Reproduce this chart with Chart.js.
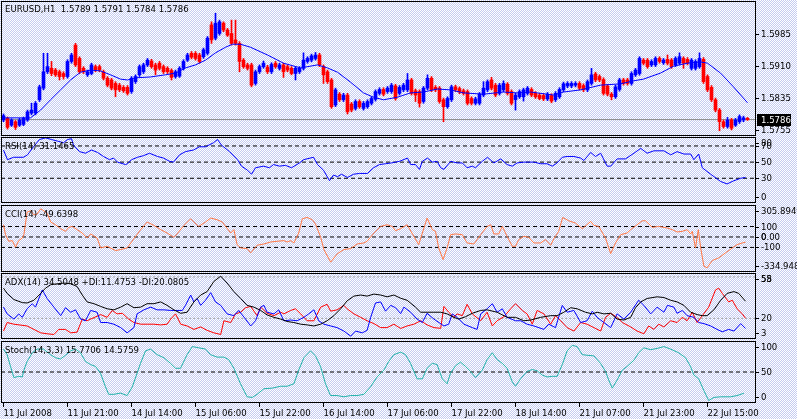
<!DOCTYPE html>
<html><head><meta charset="utf-8">
<script src="https://cdn.jsdelivr.net/npm/chart.js@4.4.1/dist/chart.umd.min.js"></script>
<style>
html,body{margin:0;padding:0;}
body{width:797px;height:419px;position:relative;overflow:hidden;
 background-color:#ffffff;
 background-image:repeating-conic-gradient(#c4cbf0 0 25%, #ffffff 0 50%);
 background-size:2px 2px;}
canvas{position:absolute;left:0;top:0;}
</style></head><body>
<canvas id="cMain" width="797" height="419"></canvas>
<canvas id="cRsi" width="797" height="419"></canvas>
<canvas id="cCci" width="797" height="419"></canvas>
<canvas id="cAdx" width="797" height="419"></canvas>
<canvas id="cSto" width="797" height="419"></canvas>
<script>
// ---------------- DATA ----------------
const symbolTitle = 'EURUSD,H1  1.5789 1.5791 1.5784 1.5786';
const xTickBars = [0,16,32,48,64,80,96,112,128,144,160,176];
const xTickLabels = ['11 Jul 2008','11 Jul 21:00','14 Jul 14:00','15 Jul 06:00','15 Jul 22:00','16 Jul 14:00','17 Jul 06:00','17 Jul 22:00','18 Jul 14:00','21 Jul 07:00','21 Jul 23:00','22 Jul 15:00'];

const openP = [1.5785,1.5789,1.5773,1.5781,1.5773,1.5775,1.5785,1.5801,1.5801,1.5832,
1.5859,1.5897,1.5905,1.5901,1.5897,1.5893,1.5886,1.5921,1.5959,1.5928,
1.5905,1.5890,1.5893,1.5909,1.5909,1.5897,1.5882,1.5878,1.5870,1.5866,
1.5861,1.5861,1.5851,1.5874,1.5890,1.5897,1.5913,1.5922,1.5913,1.5917,
1.5909,1.5905,1.5900,1.5886,1.5887,1.5905,1.5924,1.5940,1.5940,1.5936,
1.5932,1.5940,1.6006,1.5975,1.5986,1.6010,1.5994,1.5986,1.5971,1.5963,
1.5924,1.5913,1.5913,1.5870,1.5897,1.5909,1.5908,1.5897,1.5917,1.5905,
1.5913,1.5909,1.5905,1.5893,1.5897,1.5905,1.5921,1.5924,1.5928,1.5936,
1.5909,1.5897,1.5878,1.5820,1.5845,1.5832,1.5843,1.5822,1.5812,1.5828,
1.5812,1.5816,1.5824,1.5833,1.5847,1.5856,1.5851,1.5851,1.5864,1.5847,
1.5855,1.5855,1.5878,1.5853,1.5851,1.5828,1.5859,1.5882,1.5861,1.5859,
1.5832,1.5816,1.5832,1.5862,1.5858,1.5853,1.5851,1.5835,1.5824,1.5824,
1.5843,1.5855,1.5878,1.5866,1.5847,1.5855,1.5868,1.5851,1.5832,1.5839,
1.5839,1.5847,1.5856,1.5847,1.5843,1.5842,1.5834,1.5842,1.5832,1.5839,
1.5855,1.5864,1.5864,1.5866,1.5870,1.5865,1.5855,1.5870,1.5892,1.5886,
1.5879,1.5864,1.5845,1.5839,1.5856,1.5878,1.5878,1.5870,1.5890,1.5893,
1.5924,1.5924,1.5913,1.5913,1.5928,1.5918,1.5926,1.5924,1.5913,1.5917,
1.5928,1.5926,1.5905,1.5905,1.5909,1.5926,1.5886,1.5861,1.5832,1.5808,
1.5781,1.5770,1.5785,1.5773,1.5781,1.5785,1.5789];
const highP = [1.5799,1.5792,1.5788,1.5784,1.5789,1.5792,1.5808,1.5824,1.5828,1.5866,
1.5940,1.5940,1.5921,1.5905,1.5901,1.5897,1.5925,1.5940,1.5963,1.5932,
1.5909,1.5901,1.5917,1.5913,1.5913,1.5901,1.5886,1.5882,1.5874,1.5870,
1.5865,1.5865,1.5886,1.5890,1.5913,1.5917,1.5928,1.5926,1.5917,1.5921,
1.5913,1.5909,1.5904,1.5901,1.5909,1.5925,1.5940,1.5944,1.5944,1.5940,
1.5952,1.5979,1.6013,1.6033,1.6017,1.6013,1.5998,1.6017,1.6017,1.5967,
1.5928,1.5917,1.5917,1.5901,1.5913,1.5922,1.5912,1.5918,1.5921,1.5917,
1.5917,1.5913,1.5909,1.5909,1.5909,1.5941,1.5932,1.5938,1.5942,1.5940,
1.5913,1.5901,1.5882,1.5859,1.5849,1.5847,1.5847,1.5826,1.5832,1.5832,
1.5828,1.5832,1.5839,1.5855,1.5860,1.5860,1.5863,1.5870,1.5868,1.5865,
1.5870,1.5893,1.5882,1.5857,1.5855,1.5863,1.5890,1.5886,1.5865,1.5863,
1.5836,1.5839,1.5866,1.5866,1.5862,1.5857,1.5855,1.5839,1.5838,1.5849,
1.5874,1.5878,1.5884,1.5870,1.5870,1.5876,1.5872,1.5855,1.5847,1.5855,
1.5859,1.5863,1.5860,1.5851,1.5847,1.5846,1.5849,1.5846,1.5851,1.5860,
1.5873,1.5874,1.5874,1.5874,1.5874,1.5869,1.5878,1.5905,1.5896,1.5890,
1.5883,1.5868,1.5849,1.5866,1.5882,1.5882,1.5882,1.5897,1.5905,1.5932,
1.5928,1.5928,1.5925,1.5932,1.5932,1.5928,1.5936,1.5928,1.5932,1.5941,
1.5932,1.5930,1.5928,1.5925,1.5941,1.5930,1.5890,1.5865,1.5836,1.5812,
1.5785,1.5791,1.5789,1.5789,1.5797,1.5794,1.5791];
const lowP = [1.5781,1.5764,1.5770,1.5763,1.5770,1.5772,1.5782,1.5797,1.5797,1.5828,
1.5855,1.5893,1.5888,1.5886,1.5878,1.5880,1.5882,1.5917,1.5909,1.5893,
1.5893,1.5886,1.5890,1.5897,1.5897,1.5878,1.5862,1.5855,1.5839,1.5851,
1.5849,1.5843,1.5847,1.5870,1.5886,1.5893,1.5909,1.5905,1.5890,1.5901,
1.5893,1.5893,1.5878,1.5882,1.5884,1.5901,1.5921,1.5927,1.5924,1.5917,
1.5928,1.5936,1.5963,1.5971,1.5982,1.5990,1.5979,1.5959,1.5959,1.5897,
1.5905,1.5901,1.5862,1.5866,1.5893,1.5905,1.5893,1.5893,1.5905,1.5901,
1.5884,1.5897,1.5890,1.5878,1.5893,1.5901,1.5917,1.5920,1.5924,1.5909,
1.5870,1.5870,1.5812,1.5816,1.5828,1.5828,1.5799,1.5804,1.5808,1.5812,
1.5808,1.5812,1.5820,1.5829,1.5843,1.5841,1.5847,1.5847,1.5831,1.5843,
1.5851,1.5851,1.5843,1.5828,1.5815,1.5824,1.5855,1.5851,1.5851,1.5824,
1.5781,1.5812,1.5828,1.5851,1.5846,1.5843,1.5820,1.5820,1.5820,1.5820,
1.5839,1.5851,1.5855,1.5839,1.5843,1.5851,1.5843,1.5820,1.5808,1.5835,
1.5829,1.5843,1.5839,1.5835,1.5832,1.5830,1.5830,1.5825,1.5828,1.5835,
1.5851,1.5860,1.5860,1.5862,1.5855,1.5851,1.5851,1.5866,1.5874,1.5874,
1.5843,1.5841,1.5832,1.5835,1.5852,1.5866,1.5866,1.5866,1.5886,1.5889,
1.5913,1.5905,1.5909,1.5909,1.5917,1.5914,1.5913,1.5905,1.5909,1.5913,
1.5905,1.5913,1.5901,1.5901,1.5905,1.5870,1.5851,1.5828,1.5804,1.5760,
1.5766,1.5766,1.5762,1.5770,1.5777,1.5781,1.5784];
const closeP = [1.5795,1.5768,1.5785,1.5768,1.5785,1.5789,1.5804,1.5808,1.5824,1.5862,
1.5897,1.5909,1.5893,1.5890,1.5886,1.5886,1.5921,1.5936,1.5913,1.5897,
1.5897,1.5897,1.5913,1.5901,1.5901,1.5882,1.5866,1.5859,1.5855,1.5855,
1.5853,1.5847,1.5882,1.5886,1.5909,1.5913,1.5924,1.5909,1.5901,1.5905,
1.5897,1.5897,1.5884,1.5897,1.5905,1.5921,1.5936,1.5931,1.5928,1.5921,
1.5948,1.5975,1.5971,1.6010,1.6013,1.5994,1.5982,1.5963,1.5963,1.5921,
1.5909,1.5905,1.5866,1.5897,1.5909,1.5917,1.5897,1.5914,1.5909,1.5913,
1.5897,1.5901,1.5893,1.5905,1.5905,1.5924,1.5928,1.5934,1.5936,1.5913,
1.5890,1.5874,1.5816,1.5855,1.5832,1.5843,1.5804,1.5808,1.5828,1.5816,
1.5824,1.5828,1.5835,1.5851,1.5856,1.5845,1.5859,1.5866,1.5835,1.5861,
1.5866,1.5878,1.5847,1.5843,1.5824,1.5859,1.5882,1.5855,1.5855,1.5828,
1.5816,1.5835,1.5862,1.5855,1.5850,1.5847,1.5824,1.5824,1.5834,1.5845,
1.5859,1.5874,1.5859,1.5843,1.5866,1.5870,1.5847,1.5824,1.5843,1.5851,
1.5855,1.5859,1.5843,1.5839,1.5835,1.5834,1.5845,1.5829,1.5847,1.5856,
1.5869,1.5870,1.5870,1.5870,1.5859,1.5855,1.5874,1.5890,1.5878,1.5878,
1.5847,1.5845,1.5839,1.5862,1.5878,1.5870,1.5870,1.5893,1.5901,1.5928,
1.5917,1.5909,1.5921,1.5928,1.5921,1.5924,1.5917,1.5909,1.5928,1.5932,
1.5917,1.5917,1.5924,1.5921,1.5928,1.5874,1.5855,1.5832,1.5808,1.5781,
1.5770,1.5785,1.5766,1.5785,1.5793,1.5790,1.5786];
const bidPrice = 1.5786;
const priceTicks = [1.5985,1.5910,1.5835,1.5755];

const maBar = [0,6.75,9.25,11.75,14.25,16.75,19.25,21.75,24.25,26.75,29.25,31,33,36.75,40.5,43,45.5,48,50.5,53,55.5,57.25,59.25,61.75,66,70,74.25,78.5,81,83.5,86.75,90,92.5,95,98.5,101.75,105,108.5,111.75,115,120,125,128.5,131.75,133.5,137.5,140,144.25,149.25,154.25,157.5,160,164.25,167.5,171,174.25,176,179.25,182.5,186];
const maVal = [1.5790,1.5790,1.5808,1.5832,1.5855,1.5878,1.5896,1.5901,1.5899,1.5890,1.5880,1.5878,1.5883,1.5885,1.5890,1.5894,1.5906,1.5913,1.5924,1.5941,1.5954,1.5961,1.5961,1.5954,1.5936,1.5917,1.5906,1.5913,1.5906,1.5896,1.5873,1.5848,1.5838,1.5832,1.5838,1.5848,1.5850,1.5857,1.5855,1.5848,1.5845,1.5850,1.5848,1.5850,1.5848,1.5843,1.5850,1.5855,1.5866,1.5869,1.5876,1.5880,1.5894,1.5910,1.5917,1.5920,1.5917,1.5894,1.5862,1.5825];

const rsiBar = [0,1,2.5,5,6,7.5,9,10.5,12,13.5,15,16,17,17.5,19,20.5,22,23.5,25,26.5,27.5,28.5,30.5,31,32,33.5,35,36.5,38.5,40,41.5,42.5,44,45.5,47.5,49,50.5,52.5,53.5,54.5,56.5,58.5,59.5,61,62,63,65,66.5,67.5,69,70.5,72,74,75,77.5,78.5,80,81.5,82.5,83.5,84.5,86,87.5,89,91,92.5,94,95.5,97,99,
101,101.8,103,104,104.7,106,107.2,108.4,109.3,110.1,111.8,113.4,114.7,115.9,117.2,118,119.7,121,122.6,124.3,125.9,127.2,128.4,130.1,132.6,134.3,135.9,137.2,138.4,139.7,140.9,142.6,144.3,145.1,146.8,148,149.3,150.9,151.8,153.4,155.5,157.6,159.3,160.9,162.6,165.1,166.8,168.4,170.1,171.8,172.6,173.8,174.7,176.8,179.3,180.9,182.6,184.3,185.5];
const rsiVal = [65,53,56,56,59,69,78,80,78,76,74,78,79,71,63,61,65,62,57,53,55,50,47,48,53,56,58,61,57,55,51,50,59,63,65,69,69,74,78,71,63,53,45,40,35,43,45,43,47,45,46,43,49,53,56,47,40,27,34,32,35,31,35,36,36,43,47,48,49,51,
55,47,47,41,51,55,50,51,43,41,51,49,49,43,45,43,51,56,49,54,47,45,49,50,50,48,48,45,49,56,57,57,55,52,62,57,61,45,45,54,54,61,67,61,64,64,59,63,60,60,53,60,43,35,26,23,27,30,31.1];
const rsiLevels = [70,50,30];

const cciBar = [0,0.5,1.3,2.2,3,3.8,4.7,5.1,5.9,6.8,7.6,8.4,9.3,9.7,10.9,11.8,13,14.3,15.5,16.3,17.2,18.4,19.7,20.9,21.8,23.4,24.3,25.9,28,29.3,30.9,32.6,34.3,35.9,37.6,39.3,40.9,42.6,43.4,45.1,46.8,47.6,48.8,50.5,51.8,53.4,54.7,56.8,57.6,58.4,59.3,60.9,61.8,63.4,65.1,66.8,68.4,70.1,70.9,71.8,72.6,73.8,74.7,75.9,77.2,78,79.3,80.1,81.8,83.4,85.1,86.8,88.4,90.1,90.9,92.6,94.3,95.9,97.2,98,
99.3,100.9,103.8,105.9,107.2,108,108.8,109.9,110.9,111.8,113,114.7,115.9,117.6,119.3,120.9,121.8,122.6,123.8,124.7,125.9,127.2,128,128.8,130.1,131.3,132.6,134.3,135.5,136.8,137.6,138.8,139.8,141.3,143,144.7,146.8,147.6,148.8,150.5,151.8,153,154.3,155.9,156.8,158.4,159.7,160.5,162.2,163.8,165.9,167.2,168.4,169.7,170.9,171.8,172.2,173,173.7,174.3,175.1,175.9,177.2,178.8,180.5,182.2,183.4,184.7,185.5];
const cciVal = [117,22,-41,-35,-98,-35,-10,22,238,250,212,219,269,260,228,143,117,79,54,92,101,70,38,-10,29,-10,-105,-89,-130,-120,-105,-16,70,143,111,70,38,-3,29,111,174,143,101,143,181,165,143,38,70,-73,-105,-111,-152,-79,-67,-48,-41,-35,-48,-35,-57,38,174,187,165,124,-3,-120,-241,-162,-120,-111,-67,-57,-41,38,101,117,101,60,
80,117,-73,181,70,54,-105,-216,-105,22,29,22,-57,-67,22,101,117,29,29,101,6,-89,-89,-25,6,-3,-57,-57,-25,-79,-16,54,187,155,133,79,149,111,101,-10,-159,-57,22,38,70,117,155,155,92,101,86,70,48,54,70,29,54,-105,70,-105,-279,-295,-225,-200,-152,-105,-73,-57,-49.6];
const cciLevels = [100,0,-100];

const adxBar = [0,0.9,2.6,4.7,5.9,7.6,9.3,10.5,11.8,13.4,15.1,16.8,18.4,19.7,20.9,22.6,24.3,25.9,27.6,29.3,30.9,32.6,34.3,35.9,37.6,39.3,40.9,42.6,44.3,45.9,47.6,49.3,50.9,52.6,54.3,55.9,57.6,59.3,60.9,62.6,64.3,65.9,67.6,69.3,70.9,72.6,74.3,75.9,77.6,79.3,80.9,82.6,84.3,85.9,87.6,89.3,90.9,92.6,94.3,95.9,97.6,
99.3,100.9,103,104.3,105.9,107.6,109.3,110.9,112.6,113.8,115.5,117.2,119.3,120.9,123.4,125.9,128,130.1,131.8,134.3,136.8,138.4,140.1,141.8,143.4,145.5,147.2,148.4,150.1,151.8,153.4,155.1,156.8,158,159.3,160.9,163.4,165.1,166.8,168.4,170.1,171.8,173.4,174.7,175.9,177.6,179.3,180.9,182.6,183.8,185.5];
const adxVal = [45.5,41.1,35.9,33.3,33.0,35.3,41.1,45.5,48.4,49.2,49.8,49.2,46.9,39.7,33.9,32.4,30.1,28.1,27.2,29.5,32.4,29.0,29.5,32.4,32.4,33.9,31.0,27.2,24.3,25.2,33.9,39.7,42.6,51.2,55.6,49.8,42.6,36.8,31.0,29.5,26.7,22.9,20.9,19.4,17.4,16.5,15.1,14.5,13.6,15.1,18.0,22.3,28.1,34.8,38.8,39.7,38.8,40.5,39.7,38.2,39.7,
37.0,35.3,29.5,25.2,25.2,25.2,25.2,23.8,20.9,19.4,21.4,24.3,26.7,27.2,25.2,20.9,20.9,18.0,18.6,20.9,22.3,22.3,25.2,29.0,28.1,25.2,23.8,25.2,23.8,24.3,19.4,18.6,20.9,29.0,33.9,36.8,38.2,37.6,35.3,33.9,31.0,25.2,23.2,22.3,22.3,27.2,35.3,41.1,42.6,41.1,34.5];
const pdiBar = [0,0.9,2.6,3.8,4.7,5.9,7.2,8,9.7,10.9,12.6,14.3,15.5,16.8,18,19.3,20.5,21.8,23.4,24.3,25.9,27.6,29.3,30.9,32.6,33.4,35.1,36.8,38.4,40.1,41.8,43,44.7,45.5,46.8,47.6,48.4,49.3,50.5,51.8,53,54.3,55.9,57.6,58.8,60.5,61.8,63,64.3,65.1,65.9,67.6,68.8,70.1,71.8,73.4,75.1,76.3,77.6,78.8,80.1,81.8,83.4,85.1,86.8,88,89.7,90.9,91.8,93,94.3,95.5,96.8,98,
99.3,100.1,101.8,103.4,104.7,105.9,107.6,110.1,111.3,112.2,113.4,115.1,117.2,118.4,119.3,120.9,122.2,123.4,124.7,125.9,128,129.3,130.9,132.6,135.1,136.3,138,139.7,140.9,142.6,144.3,145.9,147.2,148.4,150.1,151.8,153.4,155.1,156.8,158.8,160.1,161.8,163.4,165.1,166,167.6,168.4,169.7,170.9,172.6,173.8,175.1,176.8,178.4,179.7,181.3,182.6,184.3,185.5];
const pdiVal = [29.5,23.8,19.4,23.8,20.9,28.1,32.4,29.5,44.0,36.8,29.5,22.3,29.0,25.2,27.2,19.4,18.0,26.7,25.2,16.5,16.5,15.1,12.2,7.8,12.2,23.8,27.2,29.5,27.2,27.2,26.7,26.7,26.7,31.0,39.7,33.9,36.8,31.0,35.3,41.7,33.9,31.0,23.8,22.3,26.7,19.4,13.6,18.0,29.5,31.0,25.2,23.8,27.2,18.0,18.6,18.0,20.9,23.8,27.2,18.0,15.1,13.6,12.2,9.3,5.0,9.3,7.8,9.9,20.9,33.0,33.9,26.1,31.0,29.0,
24.0,29.5,25.2,19.4,16.5,24.3,19.4,13.6,15.1,23.8,20.9,15.1,12.2,10.7,23.8,28.1,32.4,25.2,28.1,20.9,18.0,18.0,15.1,13.6,10.7,15.1,12.2,31.0,25.2,26.7,16.5,18.0,26.1,20.9,16.5,12.2,23.8,19.4,25.2,35.3,31.0,23.8,29.5,25.2,31.0,29.5,24.3,26.7,22.3,20.9,16.5,15.6,13.6,10.7,8.7,10.7,9.3,15.6,11.5];
const mdiBar = [0,0.9,2.6,5.9,7.6,9.3,10.9,12.6,13.8,15.5,16.8,18.4,19.7,20.9,21.8,24.3,25.9,27.2,28.4,29.7,31.3,32.6,34.3,35.9,37.6,39.3,40.9,41.8,43,44.3,45.9,47.6,49.3,50.9,52.6,54.3,55.1,56.8,58,59.3,60.5,61.8,63.4,64.3,65.9,67.6,69.3,70.1,71.8,73,74.3,75.9,77.6,79.3,80.9,81.8,83.4,85.1,85.9,87.6,89.3,90.9,92.6,94.3,95.9,97.6,
99.3,100.9,102.6,104.3,105.9,107.6,109.3,110.1,111.3,112.6,113.4,114.7,115.9,117.2,119.3,120.9,122.2,123.4,125.1,126.8,128,129.7,130.9,132.2,133.4,135.1,136.8,138,139.3,140.9,142.6,144.3,145.9,147.6,149.3,150.5,151.8,153.4,154.7,156.8,158.4,160.1,161.3,162.6,163.8,165.1,166.8,168.4,169.7,170.9,172.2,173.4,174.7,176.3,178,178.8,179.7,181.3,182.2,183.4,184.7,185.5];
const mdiVal = [9.3,16.5,15.1,13.6,10.7,7.8,7.0,6.4,10.7,10.7,7.8,8.4,19.4,18.0,19.4,23.2,20.9,26.7,23.8,24.3,19.4,16.5,15.1,15.1,15.1,14.5,15.1,19.4,23.8,15.1,13.6,10.7,12.8,9.9,7.8,6.4,18.0,16.5,23.8,25.2,29.0,30.1,22.3,29.5,24.3,22.3,25.2,23.8,26.7,28.1,23.8,18.0,18.0,29.5,31.9,26.1,27.2,31.0,28.1,23.8,20.9,18.0,15.6,12.2,12.2,15.1,
11.5,13.6,15.1,18.0,14.5,12.2,11.6,30.1,25.2,20.9,23.8,22.3,31.9,23.8,18.0,25.2,13.6,18.0,21.4,28.1,32.4,26.7,23.8,15.1,26.7,23.8,15.1,22.3,18.0,12.2,9.3,16.5,15.1,12.2,9.3,20.9,24.3,20.9,16.5,12.8,9.3,7.0,13.6,10.7,15.1,12.8,18.0,16.5,20.9,18.0,25.2,16.5,22.3,29.5,44.0,45.5,41.1,33.9,35.3,28.1,23.8,20.1];
const adxLevels = [55,20];

const stoBar = [0,0.9,1.75,2.6,3.8,4.7,5.1,5.9,7.2,8.4,10,11.75,13,14.25,15.5,16.75,18,19.25,20.5,21.75,23,24.25,25.5,26.3,27.6,29.25,30.9,32.2,33.4,34.25,35.5,36.75,38.4,40.1,41.75,43,44.25,45.9,47.2,48.8,50.5,51.75,53.4,55.1,56.3,57.6,59.25,60.9,62.2,63.4,65.1,67.2,69.25,70.9,72.6,73.8,75.1,76.75,78,79.25,80.5,81.75,83.4,85.1,86.75,88.4,90.1,91.75,93.4,95.1,96.3,97.6,
99.3,100.5,101.75,103.4,104.7,105.9,107.2,108.4,109.7,110.9,111.75,113,114.25,115.5,116.75,118,119.7,120.9,122.2,123.4,124.7,125.9,127.2,128,129.25,130.9,132.2,133.4,134.7,135.9,137.2,138.4,139.7,140.9,142.2,143.4,144.7,145.9,147.6,149.25,150.5,151.3,152.2,153.4,154.7,155.9,157.6,158.8,160.1,161.75,163.4,165.1,166.75,168.8,170.5,171.75,172.6,173.8,175.1,176.3,177.6,179.25,181.75,183.4,185.1];
const stoVal = [87,78,59,41,43,42,53,67,81,87,87,78,73,71,77,84,87,81,67,62,59,48,26,14,14,16,12,26,48,64,84,87,78,73,64,56,56,78,91,89,87,78,74,74,70,56,31,10,9,14,23,24,27,27,31,53,73,84,76,59,31,12,12,10,12,12,14,26,42,53,67,78,
82,78,64,39,39,56,64,62,39,31,48,60,66,59,51,41,53,70,81,70,64,56,34,27,39,51,54,52,45,42,43,43,62,84,93,91,78,77,76,64,51,37,24,37,53,59,69,81,89,86,88,91,87,81,73,59,45,39,20,4,9,10,10,12,15.8];
const stoLevels = [50];

// ---------------- RENDER ----------------
const FAMILY = '"DejaVu Sans Condensed", "Liberation Sans", Arial, sans-serif';
const FSIZE = 9.5;
Chart.defaults.font.family = FAMILY;
Chart.defaults.font.size = FSIZE;
Chart.defaults.color = '#000';
const FONT = FSIZE + 'px ' + FAMILY;
const X_MIN = -0.625, X_MAX = 188.125;
const PAGE_H = 419;

const pts = (xs, ys) => xs.map((x, i) => ({x: x, y: ys[i]}));
const flat = v => [{x: X_MIN, y: v}, {x: X_MAX, y: v}];
const lineDs = (data, color, order, extra) => Object.assign({type: 'line', data: data, borderColor: color, borderWidth: 1, pointRadius: 0, tension: 0, fill: false, order: order}, extra || {});

const mtPlugin = {
  id: 'mt',
  afterDraw(chart, args, o) {
    const ctx = chart.ctx, a = chart.chartArea, y = chart.scales.y;
    ctx.save();
    ctx.strokeStyle = '#000'; ctx.lineWidth = 1;
    ctx.strokeRect(a.left + 0.5, a.top + 0.5, a.right - a.left - 1, a.bottom - a.top - 1);
    ctx.font = FONT; ctx.fillStyle = '#000'; ctx.textBaseline = 'middle'; ctx.textAlign = 'left';
    if (o.title) ctx.fillText(o.title, a.left + 4, a.top + (o.titleDy || 10));
    (o.labels || []).forEach(l => {
      let py = Math.round(y.getPixelForValue(l.v));
      py = Math.min(Math.max(py, a.top + 6), a.bottom - 6);
      ctx.beginPath(); ctx.moveTo(a.right - 1, py + 0.5); ctx.lineTo(a.right + 3, py + 0.5); ctx.stroke();
      ctx.fillText(l.t, a.right + 5, py + 0.5);
    });
    if (o.bid) {
      const py = Math.round(y.getPixelForValue(o.bid.v));
      ctx.fillStyle = '#000';
      ctx.fillRect(a.right + 1, py - 6, 34, 12);
      ctx.fillStyle = '#fff';
      ctx.fillText(o.bid.t, a.right + 5, py + 0.5);
    }
    ctx.restore();
  }
};

function opts(top, bottom, yMin, yMax, mt, withX) {
  return {
    responsive: false, animation: false, events: [],
    layout: {padding: {left: 1, right: 41, top: top, bottom: withX ? 0 : PAGE_H - bottom}},
    plugins: {legend: {display: false}, tooltip: {enabled: false}, mt: mt},
    scales: {
      x: withX ? {
        type: 'linear', min: X_MIN, max: X_MAX, offset: false, position: 'bottom',
        afterFit: s => { s.height = PAGE_H - bottom; },
        afterBuildTicks: s => { s.ticks = xTickBars.map(v => ({value: v})); },
        ticks: {autoSkip: false, maxRotation: 0, minRotation: 0, align: 'start', padding: 1, color: '#000',
                callback: (v, i) => xTickLabels[i]},
        grid: {drawOnChartArea: false, drawTicks: true, tickLength: 4, color: '#000', lineWidth: 1},
        border: {display: false}
      } : {type: 'linear', min: X_MIN, max: X_MAX, offset: false, display: false},
      y: {type: 'linear', min: yMin, max: yMax, display: false}
    }
  };
}

const fmt = (v, d) => v.toFixed(d);
const bullish = closeP.map((c, i) => c >= openP[i]);
const candleCol = bullish.map(b => b ? '#0000ff' : '#ff0000');

// Main price panel
new Chart(document.getElementById('cMain'), {
  type: 'bar',
  data: {datasets: [
    lineDs(pts(maBar, maVal), '#0000ff', 0),
    {type: 'bar', data: openP.map((o, i) => ({x: i, y: [o, closeP[i]]})), backgroundColor: candleCol, borderWidth: 0, barThickness: 3, minBarLength: 1, grouped: false, order: 1},
    {type: 'bar', data: highP.map((h, i) => ({x: i, y: [lowP[i], h]})), backgroundColor: candleCol, borderWidth: 0, barThickness: 1, minBarLength: 1, grouped: false, order: 2},
    lineDs(flat(bidPrice), '#8a8a8a', 3)
  ]},
  options: opts(1, 136, 1.57479, 1.60614, {
    title: symbolTitle, titleDy: 9,
    labels: priceTicks.map(v => ({v: v, t: fmt(v, 4)})),
    bid: {v: bidPrice, t: fmt(bidPrice, 4)}
  }, false),
  plugins: [mtPlugin]
});

// RSI
new Chart(document.getElementById('cRsi'), {
  type: 'line',
  data: {datasets: [
    lineDs(pts(rsiBar, rsiVal), '#0000ff', 0),
    ...rsiLevels.map(v => lineDs(flat(v), '#000', 5, {borderDash: [4, 3]}))
  ]},
  options: opts(137, 203, -0.6, 81.1, {
    title: 'RSI(14) 31.1465',
    labels: [{v: 80, t: '80'}, {v: 70, t: '70'}, {v: 50, t: '50'}, {v: 30, t: '30'}, {v: 0, t: '0'}]
  }, false),
  plugins: [mtPlugin]
});

// CCI
new Chart(document.getElementById('cCci'), {
  type: 'line',
  data: {datasets: [
    lineDs(pts(cciBar, cciVal), '#ff7744', 0),
    ...cciLevels.map(v => lineDs(flat(v), '#000', 5, {borderDash: [4, 3]}))
  ]},
  options: opts(205, 272, -334.948, 305.8949, {
    title: 'CCI(14) -49.6398',
    labels: [{v: 305.8949, t: '305.8949'}, {v: 100, t: '100'}, {v: 0, t: '0'}, {v: 0, t: '0.00'}, {v: -100, t: '-100'}, {v: -334.948, t: '-334.948'}]
  }, false),
  plugins: [mtPlugin]
});

// ADX
new Chart(document.getElementById('cAdx'), {
  type: 'line',
  data: {datasets: [
    lineDs(pts(adxBar, adxVal), '#000000', 0),
    lineDs(pts(pdiBar, pdiVal), '#0000ff', 1),
    lineDs(pts(mdiBar, mdiVal), '#ff0000', 2),
    ...adxLevels.map(v => lineDs(flat(v), '#a8a8a8', 5, {borderDash: [2, 2]}))
  ]},
  options: opts(273, 339, 2.6, 58.3, {
    title: 'ADX(14) 34.5048 +DI:11.4753 -DI:20.0805',
    labels: [{v: 58.3, t: '58'}, {v: 55, t: '55'}, {v: 20, t: '20'}, {v: 2.6, t: '3'}]
  }, false),
  plugins: [mtPlugin]
});

// Stochastic
new Chart(document.getElementById('cSto'), {
  type: 'line',
  data: {datasets: [
    lineDs(pts(stoBar, stoVal), '#20b2aa', 0),
    ...stoLevels.map(v => lineDs(flat(v), '#000', 5, {borderDash: [4, 3]}))
  ]},
  options: opts(341, 403, 0, 100, {
    title: 'Stoch(14,3,3) 15.7706 14.5759',
    labels: [{v: 100, t: '100'}, {v: 50, t: '50'}, {v: 0, t: '0'}]
  }, true),
  plugins: [mtPlugin]
});
</script>
</body></html>
